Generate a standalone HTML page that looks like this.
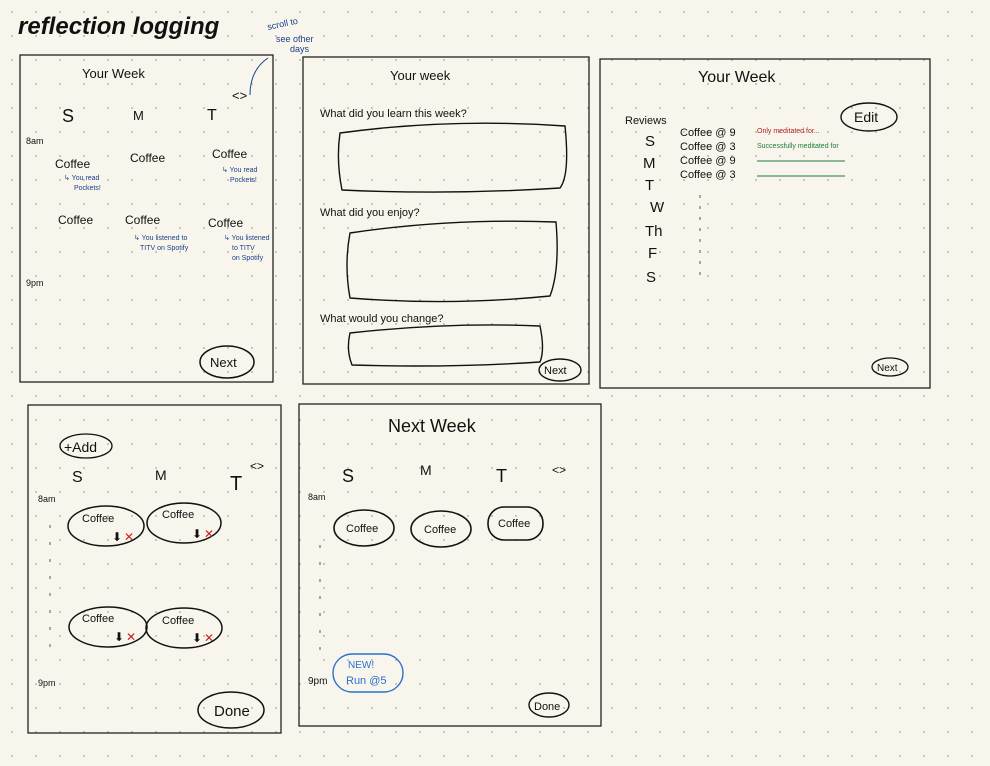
<!DOCTYPE html>
<html><head><meta charset="utf-8"><style>
html,body{margin:0;padding:0;background:#f8f6ec;}
svg{display:block}
text{font-family:"Liberation Sans",sans-serif;fill:#111}
</style></head><body>
<svg width="990" height="766" viewBox="0 0 990 766" xmlns="http://www.w3.org/2000/svg">
<defs><pattern id="d" width="24" height="24" patternUnits="userSpaceOnUse"><circle cx="12" cy="12" r="1" fill="#b8b6aa"/></pattern></defs>
<rect width="990" height="766" fill="#f8f6ec"/>
<rect width="990" height="766" fill="url(#d)"/>
<text x="18" y="34" font-size="24" font-weight="bold" font-style="italic">reflection logging</text>
<text x="268" y="30" font-size="9" style="fill:#1a3f8a" transform="rotate(-12 268 30)">scroll to</text>
<text x="276" y="42" font-size="9" style="fill:#1a3f8a">see other</text>
<text x="290" y="52" font-size="9" style="fill:#1a3f8a">days</text>
<path d="M268 58 Q250 70 250 95" stroke="#1a3f8a" fill="none"/>
<g fill="none" stroke="#222" stroke-width="1.3">
<rect x="20" y="55" width="253" height="327"/>
<rect x="303" y="57" width="286" height="327"/>
<rect x="600" y="59" width="330" height="329"/>
<rect x="28" y="405" width="253" height="328"/>
<rect x="299" y="404" width="302" height="322"/>
</g>
<!-- frame1 -->
<g font-size="13">
<text x="82" y="78">Your Week</text><text x="232" y="100">&lt;&gt;</text>
<text x="62" y="122" font-size="18">S</text><text x="133" y="120">M</text><text x="207" y="120" font-size="16">T</text>
<text x="26" y="144" font-size="9">8am</text>
<text x="55" y="168" font-size="12">Coffee</text><text x="130" y="162" font-size="12">Coffee</text><text x="212" y="158" font-size="12">Coffee</text>
<text x="58" y="224" font-size="12">Coffee</text><text x="125" y="224" font-size="12">Coffee</text><text x="208" y="227" font-size="12">Coffee</text>
<text x="26" y="286" font-size="9">9pm</text>
</g>
<g font-size="7">
<text x="64" y="180" style="fill:#1a3f8a">↳ You read</text><text x="74" y="190" style="fill:#1a3f8a">Pockets!</text>
<text x="222" y="172" style="fill:#1a3f8a">↳ You read</text><text x="230" y="182" style="fill:#1a3f8a">Pockets!</text>
<text x="134" y="240" style="fill:#1a3f8a">↳ You listened to</text><text x="140" y="250" style="fill:#1a3f8a">TITV on Spotify</text>
<text x="224" y="240" style="fill:#1a3f8a">↳ You listened</text><text x="232" y="250" style="fill:#1a3f8a">to TITV</text><text x="232" y="260" style="fill:#1a3f8a">on Spotify</text>
</g>
<ellipse cx="227" cy="362" rx="27" ry="16" fill="none" stroke="#111" stroke-width="1.5"/><text x="210" y="367" font-size="13">Next</text>
<!-- frame2 -->
<text x="390" y="80" font-size="13">Your week</text>
<text x="320" y="117" font-size="11">What did you learn this week?</text>
<path d="M340 133 Q450 118 565 126 Q570 175 560 188 Q450 195 342 190 Q336 160 340 133Z" fill="none" stroke="#111" stroke-width="1.4"/>
<text x="320" y="216" font-size="11">What did you enjoy?</text>
<path d="M350 233 Q450 218 556 222 Q560 270 550 296 Q450 306 350 298 Q344 265 350 233Z" fill="none" stroke="#111" stroke-width="1.4"/>
<text x="320" y="322" font-size="11">What would you change?</text>
<path d="M350 333 Q450 322 540 326 Q545 350 540 362 Q450 368 352 365 Q346 350 350 333Z" fill="none" stroke="#111" stroke-width="1.4"/>
<ellipse cx="560" cy="370" rx="21" ry="11" fill="none" stroke="#111" stroke-width="1.4"/><text x="544" y="374" font-size="11">Next</text>
<!-- frame3 -->
<text x="698" y="82" font-size="16">Your Week</text>
<ellipse cx="869" cy="117" rx="28" ry="14" fill="none" stroke="#111" stroke-width="1.4"/><text x="854" y="122" font-size="14">Edit</text>
<text x="625" y="124" font-size="11">Reviews</text>
<g font-size="15"><text x="645" y="146">S</text><text x="643" y="168">M</text><text x="645" y="190">T</text><text x="650" y="212">W</text><text x="645" y="236">Th</text><text x="648" y="258">F</text><text x="646" y="282">S</text></g>
<g font-size="11"><text x="680" y="136">Coffee @ 9</text><text x="680" y="150">Coffee @ 3</text><text x="680" y="164">Coffee @ 9</text><text x="680" y="178">Coffee @ 3</text></g>
<text x="757" y="133" font-size="7" style="fill:#b02020">Only meditated for...</text>
<text x="757" y="148" font-size="7" style="fill:#1e7a3a">Successfully meditated for</text>
<path d="M757 161h88M757 176h88" stroke="#1e7a3a"/>
<path d="M700 195v80" stroke="#555" stroke-dasharray="3 8"/>
<ellipse cx="890" cy="367" rx="18" ry="9" fill="none" stroke="#111" stroke-width="1.3"/><text x="877" y="371" font-size="10">Next</text>
<!-- frame4 -->
<ellipse cx="86" cy="446" rx="26" ry="12" fill="none" stroke="#111" stroke-width="1.3"/><text x="64" y="452" font-size="14">+Add</text>
<text x="72" y="482" font-size="16">S</text><text x="155" y="480" font-size="14">M</text><text x="230" y="490" font-size="20">T</text><text x="250" y="470" font-size="12">&lt;&gt;</text>
<text x="38" y="502" font-size="9">8am</text><text x="38" y="686" font-size="9">9pm</text>
<path d="M50 525v130" stroke="#555" stroke-dasharray="3 14"/>
<g fill="none" stroke="#111" stroke-width="1.5">
<ellipse cx="106" cy="526" rx="38" ry="20"/><ellipse cx="184" cy="523" rx="37" ry="20"/>
<ellipse cx="108" cy="627" rx="39" ry="20"/><ellipse cx="184" cy="628" rx="38" ry="20"/>
</g>
<g font-size="11"><text x="82" y="522">Coffee</text><text x="162" y="518">Coffee</text><text x="82" y="622">Coffee</text><text x="162" y="624">Coffee</text></g>
<g font-size="12"><text x="112" y="541">⬇</text><text x="124" y="541" style="fill:#d02020">✕</text>
<text x="192" y="538">⬇</text><text x="204" y="538" style="fill:#d02020">✕</text>
<text x="114" y="641">⬇</text><text x="126" y="641" style="fill:#d02020">✕</text>
<text x="192" y="642">⬇</text><text x="204" y="642" style="fill:#d02020">✕</text></g>
<ellipse cx="231" cy="710" rx="33" ry="18" fill="none" stroke="#111" stroke-width="1.5"/><text x="214" y="716" font-size="15">Done</text>
<!-- frame5 -->
<text x="388" y="432" font-size="18">Next Week</text>
<text x="342" y="482" font-size="18">S</text><text x="420" y="475" font-size="14">M</text><text x="496" y="482" font-size="18">T</text><text x="552" y="474" font-size="12">&lt;&gt;</text>
<text x="308" y="500" font-size="9">8am</text>
<g fill="none" stroke="#111" stroke-width="1.6">
<ellipse cx="364" cy="528" rx="30" ry="18"/><ellipse cx="441" cy="529" rx="30" ry="18"/><rect x="488" y="507" width="55" height="33" rx="16"/>
</g>
<g font-size="11"><text x="346" y="532">Coffee</text><text x="424" y="533">Coffee</text><text x="498" y="527">Coffee</text></g>
<path d="M320 545v110" stroke="#555" stroke-dasharray="3 14"/>
<text x="308" y="684" font-size="10">9pm</text>
<rect x="333" y="654" width="70" height="38" rx="19" fill="none" stroke="#2b6fd0" stroke-width="1.4"/>
<text x="348" y="668" font-size="10" style="fill:#2b6fd0">NEW!</text><text x="346" y="684" font-size="11" style="fill:#2b6fd0">Run @5</text>
<ellipse cx="549" cy="705" rx="20" ry="12" fill="none" stroke="#111" stroke-width="1.4"/><text x="534" y="710" font-size="11">Done</text>
</svg>
</body></html>
